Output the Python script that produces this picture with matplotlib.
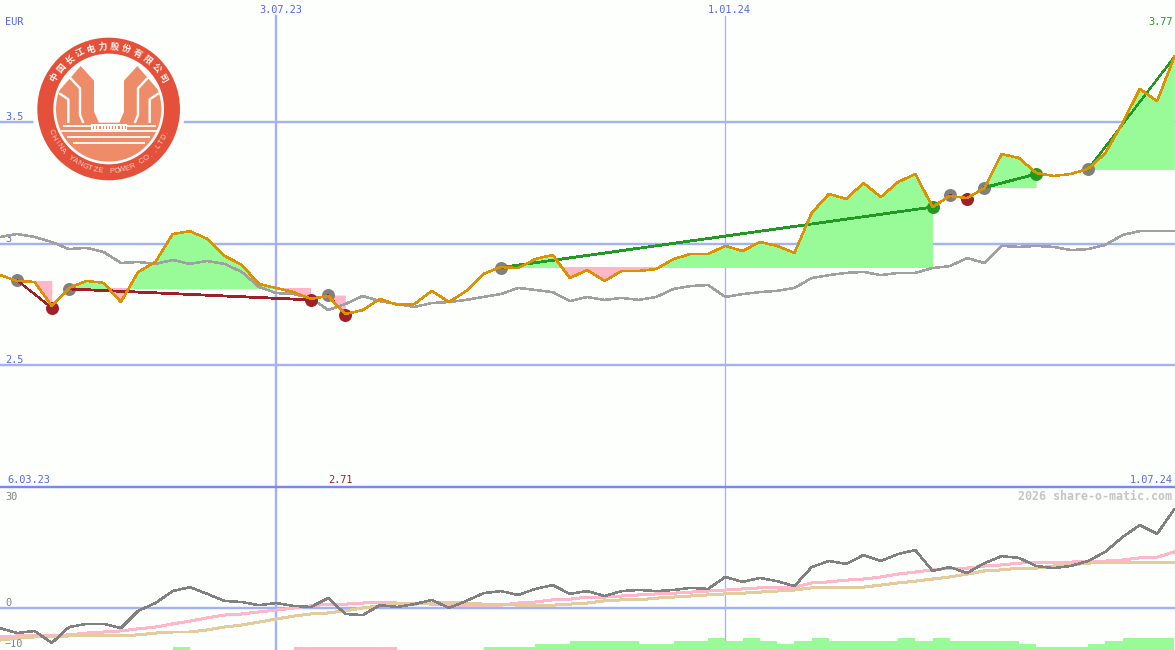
import matplotlib
matplotlib.use("Agg")
import matplotlib.pyplot as plt
import numpy as np
from matplotlib.patches import Circle, Polygon, Rectangle
from matplotlib.transforms import ScaledTranslation

# ---------- data ----------
close = [2.872,2.848,2.844,2.745,2.819,2.848,2.84,2.761,2.885,2.926,3.041,3.053,3.021,2.951,2.914,2.835,2.819,2.802,2.774,2.786,2.712,2.728,2.774,2.749,
         2.753,2.807,2.761,2.807,2.877,2.905,2.901,2.938,2.955,2.86,2.893,2.848,2.889,2.889,2.897,2.938,2.959,2.959,2.992,2.971,3.008,2.992,2.963,
         3.128,3.206,3.185,3.251,3.193,3.255,3.288,3.152,3.198,3.189,3.23,3.37,3.354,3.292,3.28,3.288,3.309,3.374,3.498,3.638,3.588,3.77]
benchmark = [3.029,3.041,3.029,3.008,2.979,2.984,2.967,2.922,2.926,2.918,2.934,2.918,2.93,2.918,2.885,2.823,2.798,2.794,2.778,2.728,2.753,2.786,2.765,2.753,
             2.741,2.757,2.761,2.77,2.782,2.794,2.819,2.811,2.802,2.765,2.782,2.77,2.778,2.77,2.782,2.815,2.827,2.831,2.782,2.794,2.802,2.807,2.819,
             2.86,2.872,2.881,2.885,2.872,2.881,2.881,2.901,2.909,2.942,2.922,2.992,2.988,2.992,2.988,2.975,2.979,2.996,3.037,3.053,3.053,3.053]
momentum = [-5.7,-7.1,-6.5,-9.9,-5.4,-4.5,-4.5,-5.7,-0.8,1.4,4.8,5.9,4.0,2.0,1.7,0.8,1.4,0.6,0.3,2.8,-1.7,-2.0,0.8,0.3,
            1.1,2.3,0,2.0,4.2,4.8,3.7,5.4,6.5,4.0,4.8,3.4,4.8,5.1,4.8,5.1,5.7,5.4,8.8,7.4,8.5,7.6,6.2,
            11.6,13.3,12.5,15.0,13.3,15.3,16.4,10.5,11.6,9.9,12.7,14.7,14.2,11.9,11.3,11.9,13.3,15.9,20.1,23.5,21.0,28.0]
avg_fast = [-8.2,-7.9,-7.9,-7.9,-7.6,-7.1,-6.8,-6.5,-5.9,-5.4,-4.5,-3.7,-2.8,-2.0,-1.7,-1.1,-0.6,0,0.6,1.1,1.1,1.4,1.7,1.4,
            1.4,1.1,0.8,0.8,0.8,0.8,1.4,1.7,2.3,2.5,3.1,3.1,3.4,3.7,4.0,4.2,4.5,4.8,5.1,5.4,5.7,5.9,5.9,
            7.1,7.4,7.9,8.2,8.8,9.6,10.2,10.8,11.3,11.3,11.9,12.2,12.7,13.0,13.0,13.0,13.3,13.3,13.6,14.2,14.4,15.9]
avg_slow = [-9.1,-8.5,-8.2,-8.2,-7.9,-7.9,-7.9,-7.9,-7.6,-7.1,-6.8,-6.8,-6.2,-5.4,-4.8,-4.0,-3.1,-2.3,-1.7,-1.4,-0.8,0,0.6,1.4,
            1.1,1.4,1.7,1.4,1.1,1.1,0.8,0.8,0.8,1.1,1.4,2.0,2.3,2.3,2.8,3.1,3.4,3.7,4,4.2,4.5,4.8,5.1,
            5.7,5.9,5.9,5.9,6.5,7.1,7.6,8.2,8.8,9.6,10.5,10.8,11.3,11.3,11.9,12.2,12.7,13,13,13,13,13]
# signal strength per week: positive = green, negative = pink, 0 = none
signal = [0,0,0,0,0,0,0,0,0,0,1,0,0,0,0,0,0,-1,-1,-1,-1,-1,-1,0,
          0,0,0,0,1,1,1,2,2,3,3,3,3,2,2,3,3,4,3,4,3,2,3,
          4,3,3,3,3,4,3,4,3,3,3,3,2,1,1,1,2,3,4,4,4]

trade_entry_idx = [1,4,19,29,55,57,63]
trade_exit_idx = [3,18,20,54,56,60,68]
trade_entry_val = [2.85,2.815,2.79,2.903,3.2,3.232,3.307]
trade_exit_val = [2.737,2.77,2.708,3.152,3.187,3.288,3.77]
trade_closed = [True,True,True,True,True,True,False]

price_ticks = [2.5,3,3.5]
price_labels = ["2.5","3","3.5"]
date_tick_idx = [16,42]
date_tick_labels = ["3.07.23","1.01.24"]
date_tick_widths = [2.4,1.3]
mom_ticks = [-10,0,30]
mom_labels = ["\u221210","0","30"]

# ---------- styles ----------
BG = "#FDFFFD"; GRID = "#A4B2F2"; SEP = "#7A88EE"; BLUE = "#5566EE"
GREENF = "#98FB98"; PINKF = "#FFB6C8"; ORANGE = "#DD9000"; GRAY = "#A0A0A0"
DGRAY = "#808080"; TAN = "#E4CB9E"; DRED = "#A02028"; DGREEN = "#229922"
PX = 0.72
THIN = 1.5 * PX
mono = "DejaVu Sans Mono"

fig = plt.figure(figsize=(11.75, 6.5), dpi=100, facecolor=BG)
low = fig.add_axes([0, 0, 1, 163/650], facecolor=BG, zorder=1)
bars = fig.add_axes([0, 0, 1, 163/650], facecolor="none", zorder=2)
top = fig.add_axes([0, 163/650, 1, 487/650], facecolor=BG, zorder=3)
x = np.arange(len(close))
XMAX = 1175/17.27
for a in (top, low, bars):
    a.set_xlim(0, XMAX)
    for s in a.spines.values():
        s.set_visible(False)
top.set_ylim(2, 4.004)
low.set_ylim(-11.9, 34.28)
bars.set_ylim(0, 163/3)
bars.axis("off")

# grid
for v in price_ticks:
    top.axhline(v, color=GRID, lw=2.4*PX, zorder=1)
low.axhline(0, color=GRID, lw=2.4*PX, zorder=1)
for i, w in zip(date_tick_idx, date_tick_widths):
    top.axvline(i, ymax=1-16/487, color=GRID, lw=w*PX, zorder=1)
    low.axvline(i, color=GRID, lw=w*PX, zorder=1)
top.spines["bottom"].set_visible(True)
top.spines["bottom"].set_color(SEP)
top.spines["bottom"].set_linewidth(2.4*PX)
top.spines["bottom"].set_zorder(8)

# ticks
def shift(lbl, dx, dy):
    lbl.set_transform(lbl.get_transform() + ScaledTranslation(dx/100, dy/100, fig.dpi_scale_trans))

top.set_yticks(price_ticks, price_labels)
top.tick_params(axis="y", length=0, pad=-5*PX, labelsize=7.4, labelcolor=BLUE, labelfontfamily=mono)
for l in top.get_yticklabels():
    l.set_ha("left"); l.set_va("baseline"); shift(l, 0, 2)
top.set_xticks(date_tick_idx, date_tick_labels)
top.tick_params(axis="x", length=0, top=True, bottom=False, labeltop=True, labelbottom=False,
                pad=-15*PX, labelsize=7.4, labelcolor=BLUE, labelfontfamily=mono)
for l in top.get_xticklabels():
    shift(l, 4, 0)
low.set_xticks([])
low.set_yticks(mom_ticks, mom_labels)
low.tick_params(axis="y", length=0, pad=-5*PX, labelsize=7.4, labelcolor=DGRAY, labelfontfamily=mono)
for l, t in zip(low.get_yticklabels(), mom_ticks):
    l.set_ha("left"); l.set_va("baseline"); shift(l, 0, 2 if t != -10 else -4)

# trade fills, dots, lines
c = np.array(close)
for a, b, lvl in zip(trade_entry_idx, trade_exit_idx, trade_entry_val):
    xs, ys = x[a:b+1], c[a:b+1]
    top.fill_between(xs, lvl, ys, where=ys >= lvl, interpolate=True, color=GREENF, lw=0, antialiased=False, zorder=2)
    top.fill_between(xs, lvl, ys, where=ys <= lvl, interpolate=True, color=PINKF, lw=0, antialiased=False, zorder=2)

top.plot(x, benchmark, color=GRAY, lw=THIN, antialiased=False, zorder=3)
for a, b, va, vb, closed in zip(trade_entry_idx, trade_exit_idx, trade_entry_val, trade_exit_val, trade_closed):
    col = DGREEN if vb > va else DRED
    top.plot([a], [va], "o", ms=13*PX, mfc=DGRAY, mec="none", zorder=4)
    if closed:
        top.plot([b], [vb], "o", ms=13*PX, mfc=col, mec="none", zorder=4)
    top.plot([a, b], [va, vb], color=col, lw=(1.8 if b - a > 2 and closed else 1.2)*PX, antialiased=False, zorder=5)
top.plot(x, close, color=ORANGE, lw=THIN, antialiased=False, zorder=6)

# lower panel
low.plot(x, avg_fast, color=PINKF, lw=2*PX, antialiased=False, zorder=3)
low.plot(x, avg_slow, color=TAN, lw=2*PX, antialiased=False, zorder=3)
low.plot(x, momentum, color=DGRAY, lw=THIN, antialiased=False, zorder=4)
s = np.array(signal)
bars.bar(np.arange(len(s)) + 0.5, np.abs(s), width=1.0, color=[GREENF if v > 0 else PINKF for v in s], lw=0, antialiased=False)

# annotations
def ann(ax, t, xv, yc, dx, dy, color, ha, **kw):
    ax.annotate(t, xy=(xv, yc), xycoords=("data", "axes fraction"), xytext=(dx, dy),
                textcoords="offset pixels", color=color, ha=ha, va="center",
                family=mono, fontsize=kw.pop("fontsize", 7.4), zorder=9, **kw)

ann(top, "EUR", 0, 1, 5, -22, BLUE, "left")
ann(top, "3.77", 68, 1, -2, -22, DGREEN, "right")
ann(top, "6.03.23", 0, 0, 7, 7, BLUE, "left")
ann(top, "2.71", 20, 0, -5, 7, DRED, "center")
ann(top, "1.07.24", 68, 0, -2, 7, BLUE, "right")
ann(low, "2026 share-o-matic.com", 68, 1, -2, -9, "#C4C4C4", "right", fontsize=8.4, fontweight="bold")

# ---------- logo (drawn on a 480-unit canvas) ----------
lg = fig.add_axes([30/1175, 1-190/650, 160/1175, 160/650], facecolor="none", zorder=10)
lg.set_xlim(0, 480); lg.set_ylim(480, 0); lg.axis("off")
CX, CY = 236, 237
RED = "#E5503A"; SAL = "#EE8C6A"
lg.add_patch(Circle((CX, CY), 229, fc=BG, ec="none"))
lg.add_patch(Circle((CX, CY), 214, fc=RED, ec="none"))
lg.add_patch(Circle((CX, CY), 166, fc=BG, ec="none"))
disk = Circle((CX, CY), 158, fc=SAL, ec="none")
lg.add_patch(disk)
cap = Polygon([(40,200),(72,200),(152,108),(192,152),(192,245),(207,278),(268,278),(282,245),(282,152),
               (322,108),(402,200),(440,200),(440,0),(40,0)], closed=True, fc=BG, ec="none")
lg.add_patch(cap)
cap.set_clip_path(Circle((CX, CY), 160, transform=lg.transData))
for pts in ([(120,143),(150,175),(150,255),(160,279)], [(88,190),(115,208),(115,279)]):
    p = np.array(pts, float)
    lg.plot(p[:,0], p[:,1], color=BG, lw=2.4*PX, solid_capstyle="butt")
    lg.plot(2*237-p[:,0], p[:,1], color=BG, lw=2.4*PX, solid_capstyle="butt")
for y0, x0, x1 in ((287,100,182),(287,291,378),(303,94,380),(320,112,360),(338,130,344)):
    lg.plot([x0, x1], [y0, y0], color=BG, lw=1.8*PX, solid_capstyle="butt")
lg.add_patch(Rectangle((183, 283), 107, 18, fc=BG, ec="none"))
for xt in np.arange(189, 288, 9.5):
    lg.add_patch(Rectangle((xt, 287), 4, 11, fc=SAL, ec="none"))
cn = "中国长江电力股份有限公司"
for ch, ang in zip(cn, np.linspace(-60, 60, len(cn))):
    r = np.radians(ang)
    lg.text(CX+187*np.sin(r), CY-187*np.cos(r), ch, color="#FFF6F0", fontsize=6.4, fontweight="bold",
            family=["Noto Sans CJK SC","DejaVu Sans"], rotation=-ang, rotation_mode="anchor", ha="center", va="center")
en = "CHINA YANGTZE POWER CO.,LTD."
for ch, ang in zip(en, np.linspace(-68, 68, len(en))):
    r = np.radians(ang)
    lg.text(CX+187*np.sin(r), CY+187*np.cos(r), ch, color="#FBD5C5", fontsize=5.4, family="Liberation Sans",
            rotation=ang, rotation_mode="anchor", ha="center", va="center")

fig.savefig("out.png", dpi=100, facecolor=BG)
